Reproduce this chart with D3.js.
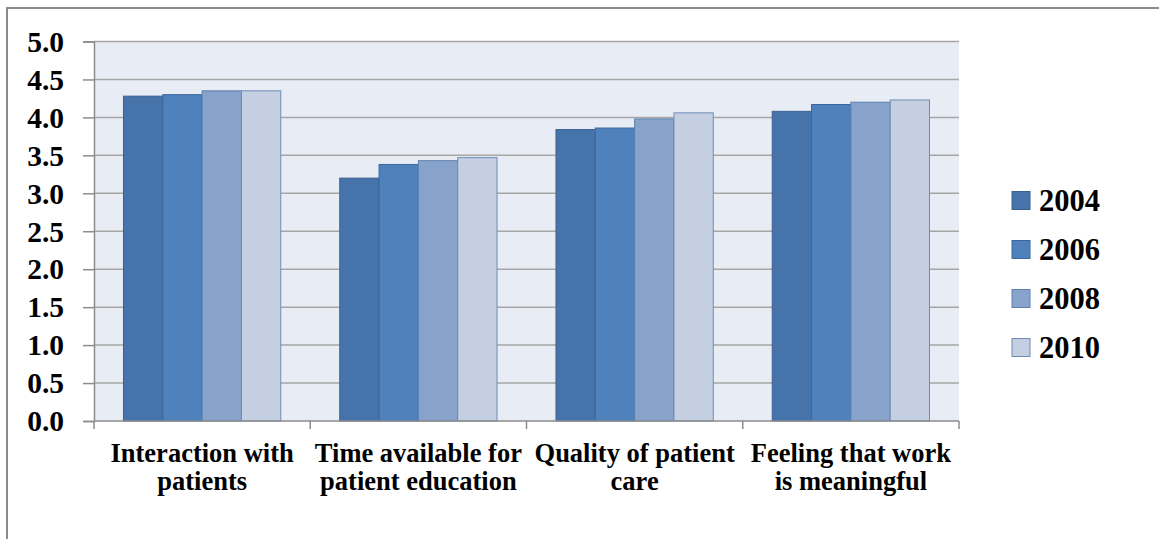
<!DOCTYPE html>
<html>
<head>
<meta charset="utf-8">
<script src="https://cdn.jsdelivr.net/npm/d3@7"></script>
<style>
  html, body { margin: 0; padding: 0; background: #fff; }
  svg { display: block; }
</style>
</head>
<body>
<svg id="chart" width="1159" height="539"></svg>
<script>
// Survey topics (two-line labels) and yearly mean scores
const categories = [
  ["Interaction with", "patients"],
  ["Time available for", "patient education"],
  ["Quality of patient", "care"],
  ["Feeling that work", "is meaningful"]
];
const years = ["2004", "2006", "2008", "2010"];
const values2004 = [4.28, 3.20, 3.84, 4.08];
const values2006 = [4.30, 3.38, 3.86, 4.17];
const values2008 = [4.35, 3.43, 3.98, 4.20];
const values2010 = [4.35, 3.47, 4.06, 4.23];
const yTicks = [0, 0.5, 1, 1.5, 2, 2.5, 3, 3.5, 4, 4.5, 5];

const seriesValues = [values2004, values2006, values2008, values2010];
const colors = ["#4674AA", "#4F81BD", "#87A3CC", "#C4CFE2"];
const strokes = ["#3B6190", "#3D679A", "#5E80AE", "#6F8CB5"];
const SERIF = "'Liberation Serif', 'Times New Roman', serif";

// applies the bold serif face used by every label
function serif(sel, size) {
  sel.style("font-family", SERIF)
     .style("font-weight", "bold")
     .style("font-size", size + "px")
     .style("fill", "#000");
}

const svg = d3.select("#chart");

// outer frame
svg.append("path")
  .attr("d", "M7,560 L7,8 L1170,8")
  .attr("fill", "none")
  .attr("stroke", "#8C8C8C")
  .attr("stroke-width", 2);

const plot = { left: 94, right: 959, top: 41.5, bottom: 421 };

const x0 = d3.scaleBand()
  .domain(d3.range(categories.length))
  .range([plot.left, plot.right])
  .paddingInner(0).paddingOuter(0);

const bw = x0.bandwidth();
const groupW = bw * 4 / 5.5;
const x1 = d3.scaleBand()
  .domain(d3.range(years.length))
  .range([(bw - groupW) / 2, (bw + groupW) / 2])
  .padding(0);

const y = d3.scaleLinear().domain([0, 5]).range([plot.bottom, plot.top]);

// plot background
svg.append("rect")
  .attr("x", plot.left).attr("y", plot.top)
  .attr("width", plot.right - plot.left).attr("height", plot.bottom - plot.top)
  .attr("fill", "#E8ECF4");

// horizontal gridlines
svg.append("g").selectAll("line")
  .data(yTicks.filter(d => d > 0))
  .join("line")
  .attr("x1", plot.left).attr("x2", plot.right)
  .attr("y1", d => y(d)).attr("y2", d => y(d))
  .attr("stroke", "#A6A6A6").attr("stroke-width", 1.5);

// bars
const rows = categories.map((c, i) => seriesValues.map((s, j) => ({ cat: i, ser: j, v: s[i] }))).flat();
svg.append("g").selectAll("rect")
  .data(rows)
  .join("rect")
  .attr("x", d => x0(d.cat) + x1(d.ser))
  .attr("width", x1.bandwidth())
  .attr("y", d => y(d.v))
  .attr("height", d => y(0) - y(d.v))
  .attr("fill", d => colors[d.ser])
  .attr("stroke", d => strokes[d.ser])
  .attr("stroke-width", 1);

// y axis
const yAxis = d3.axisLeft(y)
  .tickValues(yTicks)
  .tickFormat(d3.format(".1f"))
  .tickSize(11)
  .tickPadding(19);
const gy = svg.append("g")
  .attr("transform", `translate(${plot.left},0)`)
  .call(yAxis);
gy.select(".domain").attr("stroke", "#8C8C8C").attr("stroke-width", 1.5);
gy.selectAll(".tick line").attr("stroke", "#8C8C8C").attr("stroke-width", 1.5);
gy.selectAll(".tick text")
  .call(serif, 29.5)
  .attr("dy", "0.33em");

// x axis with ticks at category boundaries
const gx = svg.append("g").attr("transform", `translate(0,${plot.bottom})`);
gx.append("line")
  .attr("x1", plot.left).attr("x2", plot.right)
  .attr("stroke", "#8C8C8C").attr("stroke-width", 1.5);
gx.selectAll("line.tk")
  .data(d3.range(categories.length + 1))
  .join("line")
  .attr("class", "tk")
  .attr("x1", d => d < categories.length ? x0(d) : plot.right)
  .attr("x2", d => d < categories.length ? x0(d) : plot.right)
  .attr("y1", 0).attr("y2", 8)
  .attr("stroke", "#8C8C8C").attr("stroke-width", 1.5);

const lab = gx.selectAll("text.cat")
  .data(categories)
  .join("text")
  .attr("class", "cat")
  .attr("text-anchor", "middle")
  .call(serif, 26.5)
  .attr("transform", (d, i) => `translate(${x0(i) + bw / 2},0)`);
lab.selectAll("tspan")
  .data(d => d)
  .join("tspan")
  .attr("x", 0)
  .attr("y", (d, k) => 41 + k * 28)
  .text(d => d);

// legend
const legend = svg.append("g").selectAll("g")
  .data(years)
  .join("g")
  .attr("transform", (d, i) => `translate(1012,${200.5 + i * 49})`);
legend.append("rect")
  .attr("x", 0).attr("y", -9)
  .attr("width", 18).attr("height", 18)
  .attr("fill", (d, i) => colors[i])
  .attr("stroke", (d, i) => strokes[i]).attr("stroke-width", 1);
legend.append("text")
  .attr("x", 27).attr("y", 0).attr("dy", "0.35em")
  .call(serif, 30.5)
  .text(d => d);
</script>
</body>
</html>
